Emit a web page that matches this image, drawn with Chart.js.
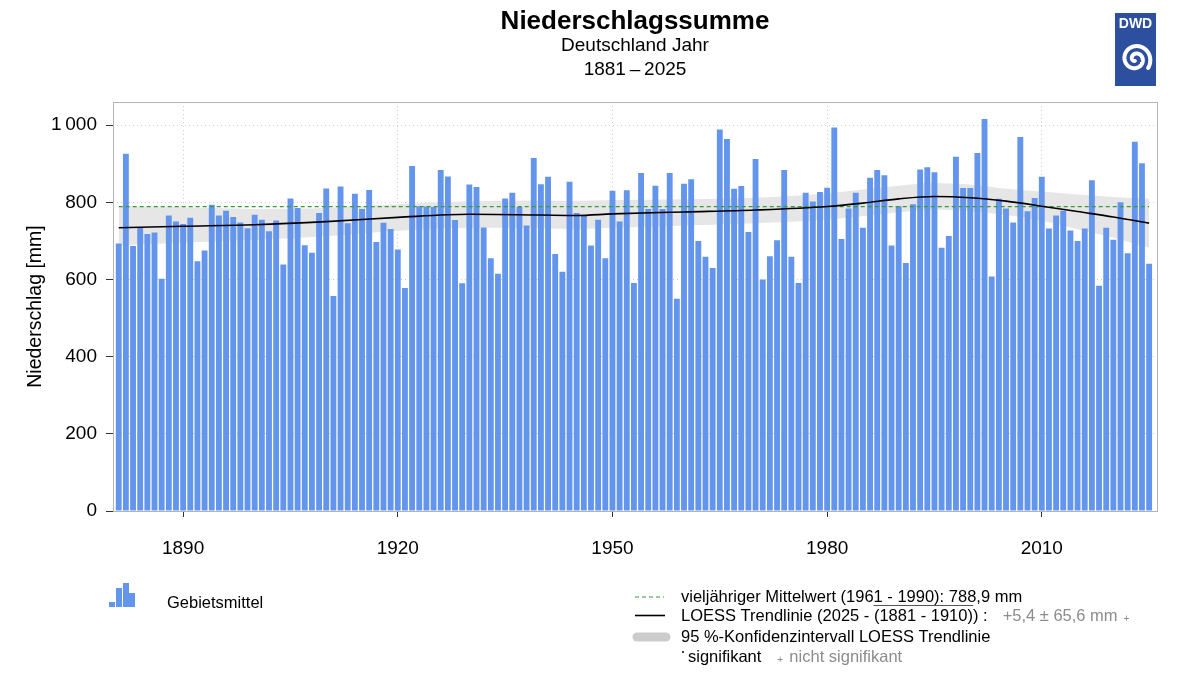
<!DOCTYPE html>
<html lang="de">
<head>
<meta charset="utf-8">
<title>Niederschlagssumme Deutschland Jahr 1881 – 2025</title>
<script src="https://cdn.jsdelivr.net/npm/chart.js@4.4.1/dist/chart.umd.min.js"></script>
<style>
  html, body { margin: 0; padding: 0; background: #fff; }
  #wrap { width: 1200px; height: 675px; }
</style>
</head>
<body>
<div id="wrap"><canvas id="chart" width="1200" height="675"></canvas></div>
<script>
// Jahre 1881 bis 2025 (Kategorien)
const ersterJahr = 1881;
const letzterJahr = 2025;
const jahre = [];
for (let j = ersterJahr; j <= letzterJahr; j++) jahre.push(j);

// Gebietsmittel Niederschlag [mm]
const niederschlag = [
  693, 926, 687, 734, 718, 722, 602, 766, 750, 744,
  760, 647, 675, 794, 766, 778, 762, 748, 733, 768,
  755, 725, 753, 639, 810, 785, 689, 669, 772, 836,
  557, 841, 746, 822, 783, 832, 697, 747, 731, 678,
  578, 894, 790, 789, 788, 884, 867, 754, 590, 846,
  840, 735, 655, 615, 810, 825, 788, 740, 915, 847,
  866, 666, 620, 853, 772, 766, 688, 755, 655, 830,
  750, 831, 591, 876, 783, 843, 783, 876, 550, 848,
  860, 700, 659, 630, 989, 964, 835, 842, 723, 912,
  600, 660, 702, 884, 659, 591, 825, 802, 827, 838,
  994, 705, 784, 825, 734, 864, 884, 870, 688, 790,
  643, 795, 885, 891, 878, 682, 713, 918, 837, 837,
  928, 1016, 608, 809, 784, 748, 969, 777, 811, 866,
  732, 766, 778, 727, 700, 732, 857, 584, 734, 703,
  800, 668, 957, 901, 641
];

const trendJahre = [1881, 1890, 1900, 1910, 1920, 1930, 1940, 1945, 1950, 1960, 1970,
                    1980, 1985, 1990, 1995, 2000, 2005, 2010, 2015, 2020, 2025];
const trendWerte = [734, 738, 742, 750, 761, 769, 767, 766, 770, 775, 780,
                    789, 798, 809, 815, 812, 803, 790, 776, 762, 746];
const bandOben   = [790, 787, 783, 785, 795, 803, 805, 804, 806, 808, 812,
                    823, 833, 843, 850, 846, 835, 828, 820, 814, 809];
const bandUnten  = [688, 695, 703, 712, 726, 734, 733, 731, 734, 740, 746,
                    755, 764, 774, 781, 777, 767, 752, 730, 708, 682];

// vieljähriger Mittelwert 1961 - 1990
const mittelwert = 788.9;

// Achsen
const xTicks = [1890, 1920, 1950, 1980, 2010];
const yTicks = [0, 200, 400, 600, 800, 1000];
const xMin = 1880.2, xMax = 2026.1;
const yMax = 1060;

const FONT = '"Liberation Sans", Arial, Helvetica, sans-serif';
const BLAU = '#6495ed';

function punkte(xs, ys) {
  return xs.map((x, i) => ({ x: x, y: ys[i] }));
}

// Rahmen um den Plotbereich
const rahmenPlugin = {
  id: 'rahmen',
  afterDatasetsDraw(chart) {
    const { ctx, chartArea: a } = chart;
    ctx.save();
    ctx.strokeStyle = '#b4b4b4';
    ctx.lineWidth = 1;
    ctx.strokeRect(a.left + 0.5, a.top + 0.5, a.right - a.left, a.bottom - a.top);
    ctx.restore();
  }
};

// Titel, Logo und Legende
const textPlugin = {
  id: 'texte',
  afterDraw(chart) {
    const ctx = chart.ctx;
    const mitte = (chart.chartArea.left + chart.chartArea.right) / 2;
    ctx.save();
    ctx.fillStyle = '#000';
    ctx.textAlign = 'center';
    ctx.textBaseline = 'middle';
    ctx.font = 'bold 26px ' + FONT;
    ctx.fillText('Niederschlagssumme', mitte, 22);
    ctx.font = '19px ' + FONT;
    ctx.fillText('Deutschland Jahr', mitte, 46);
    ctx.fillText('1881\u2009\u2013\u20092025', mitte, 70);

    // DWD Logo
    ctx.fillStyle = '#2d4f9f';
    ctx.fillRect(1115, 13, 41, 73);
    ctx.fillStyle = '#fff';
    ctx.font = 'bold 14px ' + FONT;
    ctx.fillText('DWD', 1135.5, 24);
    ctx.strokeStyle = '#fff';
    ctx.lineWidth = 4;
    ctx.lineCap = 'round';
    ctx.beginPath();
    const cx = 1135.5, cy = 59;
    const umdrehung = 3.6 * Math.PI;
    let erster = true;
    for (let t = 0; t <= umdrehung; t += 0.05) {
      const r = 2 + t * (13.5 / umdrehung);
      const px = cx + r * Math.cos(t + 0.6 * Math.PI);
      const py = cy + r * Math.sin(t + 0.6 * Math.PI);
      if (erster) { ctx.moveTo(px, py); erster = false; } else ctx.lineTo(px, py);
    }
    ctx.stroke();

    // Legende links
    ctx.fillStyle = BLAU;
    ctx.fillRect(109, 602, 6, 5);
    ctx.fillRect(116, 588, 6, 19);
    ctx.fillRect(123, 583, 6, 24);
    ctx.fillRect(129, 593, 6, 14);
    ctx.fillStyle = '#000';
    ctx.textAlign = 'left';
    ctx.font = '16.5px ' + FONT;
    ctx.fillText('Gebietsmittel', 167, 603);

    // Legende rechts
    const tx = 681;
    ctx.strokeStyle = '#3a9a3a';
    ctx.lineWidth = 1.2;
    ctx.lineCap = 'butt';
    ctx.setLineDash([4, 3]);
    ctx.beginPath(); ctx.moveTo(635, 597); ctx.lineTo(664, 597); ctx.stroke();
    ctx.setLineDash([]);
    ctx.strokeStyle = '#000';
    ctx.lineWidth = 1.6;
    ctx.beginPath(); ctx.moveTo(635, 615.5); ctx.lineTo(665, 615.5); ctx.stroke();
    ctx.strokeStyle = '#cccccc';
    ctx.lineWidth = 9;
    ctx.lineCap = 'round';
    ctx.beginPath(); ctx.moveTo(637, 637); ctx.lineTo(666, 637); ctx.stroke();

    ctx.fillStyle = '#000';
    ctx.fillText('vieljähriger Mittelwert (1961 - 1990): 788,9 mm', tx, 597);
    const teil1 = 'LOESS Trendlinie (2025 - ';
    const teil2 = '(1881 - 1910)';
    const teil3 = ') :';
    ctx.fillText(teil1 + teil2 + teil3, tx, 616);
    const w1 = ctx.measureText(teil1).width;
    const w2 = ctx.measureText(teil2).width;
    const wAll = ctx.measureText(teil1 + teil2 + teil3).width;
    ctx.strokeStyle = '#555';
    ctx.lineWidth = 1;
    ctx.beginPath(); ctx.moveTo(tx + w1, 605.5); ctx.lineTo(tx + w1 + w2, 605.5); ctx.stroke();
    ctx.fillStyle = '#8c8c8c';
    ctx.fillText('+5,4 \u00b1 65,6 mm', tx + wAll + 15, 616);
    const wWert = ctx.measureText('+5,4 \u00b1 65,6 mm').width;
    ctx.font = '10px ' + FONT;
    ctx.fillText('+', tx + wAll + 15 + wWert + 6, 619);

    ctx.fillStyle = '#000';
    ctx.font = '16.5px ' + FONT;
    ctx.fillText('95 %-Konfidenzintervall LOESS Trendlinie', tx, 637);
    ctx.beginPath(); ctx.arc(tx + 2, 652, 1, 0, 2 * Math.PI); ctx.fill();
    ctx.fillText('signifikant', tx + 7, 657);
    const wSig = ctx.measureText('signifikant').width;
    ctx.fillStyle = '#8c8c8c';
    ctx.font = '10px ' + FONT;
    ctx.fillText('+', tx + 7 + wSig + 16, 660);
    ctx.font = '16.5px ' + FONT;
    ctx.fillText('nicht signifikant', tx + 7 + wSig + 28, 657);
    ctx.restore();
  }
};

new Chart(document.getElementById('chart'), {
  type: 'bar',
  data: {
    datasets: [
      {
        type: 'line',
        label: 'Konfidenz unten',
        data: punkte(trendJahre, bandUnten),
        borderWidth: 0,
        pointRadius: 0,
        fill: false,
        cubicInterpolationMode: 'monotone',
        order: 6
      },
      {
        type: 'line',
        label: '95 %-Konfidenzintervall LOESS Trendlinie',
        data: punkte(trendJahre, bandOben),
        borderWidth: 0,
        pointRadius: 0,
        backgroundColor: '#e6e6e6',
        fill: '-1',
        cubicInterpolationMode: 'monotone',
        order: 5
      },
      {
        type: 'bar',
        label: 'Gebietsmittel',
        data: punkte(jahre, niederschlag),
        backgroundColor: BLAU,
        borderWidth: 0,
        barPercentage: 0.82,
        categoryPercentage: 1,
        order: 3
      },
      {
        type: 'line',
        label: 'vieljähriger Mittelwert',
        data: [{ x: ersterJahr, y: mittelwert }, { x: letzterJahr, y: mittelwert }],
        borderColor: '#3a9a3a',
        borderWidth: 1.2,
        borderDash: [4, 3],
        pointRadius: 0,
        fill: false,
        order: 1
      },
      {
        type: 'line',
        label: 'LOESS Trendlinie',
        data: punkte(trendJahre, trendWerte),
        borderColor: '#000',
        borderWidth: 1.6,
        pointRadius: 0,
        fill: false,
        cubicInterpolationMode: 'monotone',
        order: 0
      }
    ]
  },
  options: {
    responsive: false,
    animation: false,
    layout: { padding: { left: 0, right: 43, top: 102, bottom: 0 } },
    plugins: {
      legend: { display: false },
      tooltip: { enabled: false },
      title: { display: false }
    },
    scales: {
      x: {
        type: 'linear',
        min: xMin,
        max: xMax,
        offset: false,
        afterBuildTicks: (s) => { s.ticks = xTicks.map(v => ({ value: v })); },
        afterFit: (s) => { s.height = 164; },
        ticks: {
          color: '#000',
          font: { family: FONT, size: 19 },
          padding: 20,
          callback: (v) => String(v)
        },
        grid: {
          offset: false,
          color: 'rgba(200,200,200,0.9)',
          lineWidth: 1,
          tickLength: 6,
          tickColor: '#333',
          tickWidth: 1
        },
        border: { display: false, dash: [1, 3] }
      },
      y: {
        min: 0,
        max: yMax,
        afterBuildTicks: (s) => { s.ticks = yTicks.map(v => ({ value: v })); },
        afterFit: (s) => { s.width = 113; },
        ticks: {
          color: '#000',
          font: { family: FONT, size: 19 },
          padding: 9,
          callback: (v) => v >= 1000 ? '1\u2009000' : String(v)
        },
        grid: {
          color: 'rgba(200,200,200,0.9)',
          lineWidth: 1,
          tickLength: 7,
          tickColor: '#333',
          tickWidth: 1
        },
        border: { display: false, dash: [1, 3] },
        title: {
          display: true,
          text: 'Niederschlag [mm]',
          color: '#000',
          font: { family: FONT, size: 19.5 },
          padding: { top: 24, bottom: 0 }
        }
      }
    }
  },
  plugins: [rahmenPlugin, textPlugin]
});
</script>
</body>
</html>
